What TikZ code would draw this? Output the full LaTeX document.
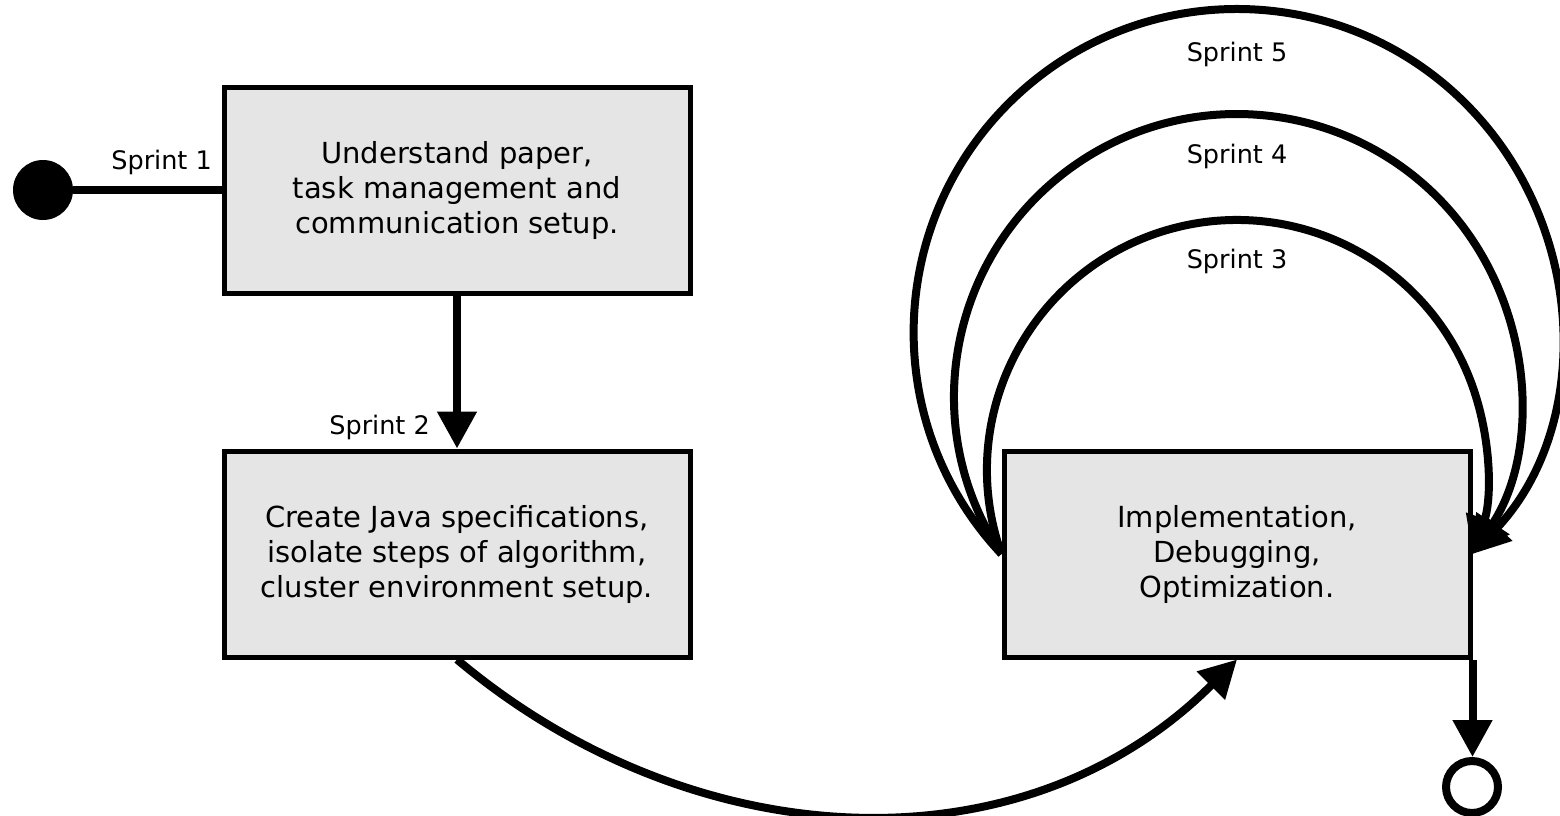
\documentclass[tikz,border=0pt]{standalone}
\usepackage{fontspec}
\setmainfont{DejaVu Sans}
\usetikzlibrary{arrows.meta}
\definecolor{boxfill}{RGB}{229,229,229}
\tikzset{
  stepbox/.style={draw=black, fill=boxfill, line width=5pt, minimum width=466pt,
    minimum height=206pt, inner sep=0pt, align=center,
    font=\fontsize{29}{35}\selectfont},
  lbl/.style={font=\fontsize{25.5}{30}\selectfont, inner sep=0pt},
  conn/.style={line width=8pt},
  arr/.style={conn, -{Triangle[length=37pt,width=38pt]}},
}
\begin{document}
\begin{tikzpicture}[x=1pt,y=-1pt]
\useasboundingbox (0,0) rectangle (1560,816);
\node[circle, fill=black, minimum size=60pt, inner sep=0pt] (start) at (43,190) {};
\node[stepbox] (b1) at (457,190) {Understand paper,\\task management and\\communication setup.};
\node[stepbox] (b2) at (457,554) {Create Java specifications,\\isolate steps of algorithm,\\cluster environment setup.};
\node[stepbox] (b3) at (1237,554) {Implementation,\\Debugging,\\Optimization.};
\node[circle, draw=black, line width=8pt, fill=white, minimum size=52pt, inner sep=0pt] (endc) at (1472,787) {};

\draw[conn] (start.east) -- (b1.west);
\node[lbl, anchor=base east] (l1) at (212,169) {Sprint 1};

\draw[arr] (b1.south) -- (b2.north);
\node[lbl, anchor=base east] (l2) at (430,434) {Sprint 2};

\draw[arr] (b2.south) .. controls +(234,197) and +(-216,216) .. (b3.south);

\draw[arr] (b3.west) arc[start angle=160.37, end angle=379.63, radius=250];
\draw[arr] (b3.west) arc[start angle=146.31, end angle=393.69, radius=283];
\draw[arr] (b3.west) arc[start angle=136.74, end angle=403.26, radius=323.4];
\node[lbl, anchor=base] (l3) at (1237,268) {Sprint 3};
\node[lbl, anchor=base] (l4) at (1237,163) {Sprint 4};
\node[lbl, anchor=base] (l5) at (1237,62) {Sprint 5};

\draw[arr] (b3.south east) -- (b3.south east |- endc.north);
\end{tikzpicture}
\end{document}
